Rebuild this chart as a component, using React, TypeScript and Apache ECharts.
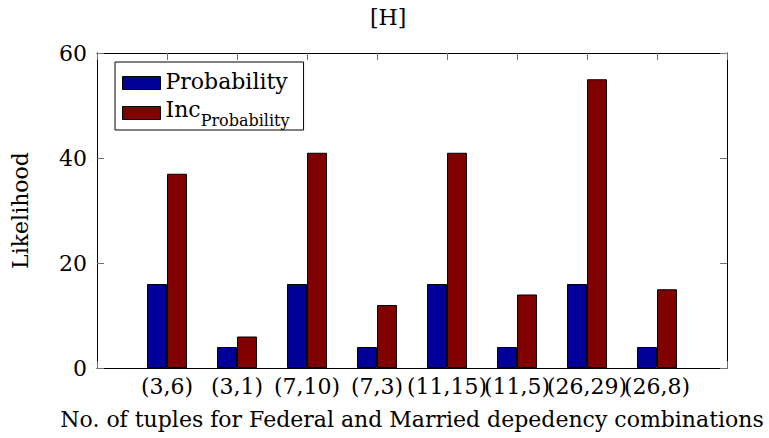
import React, { useEffect, useRef } from "react";
import * as echarts from "echarts";

const categories = ["", "(3,6)", "(3,1)", "(7,10)", "(7,3)", "(11,15)", "(11,5)", "(26,29)", "(26,8)", ""];
const probability = [null, 16, 4, 16, 4, 16, 4, 16, 4, null];
const incProbability = [null, 37, 6, 41, 12, 41, 14, 55, 15, null];
const yTicks = [0, 20, 40, 60];

const FONT = "DejaVu Serif";
const FS = 22;

export default function App() {
  const ref = useRef<HTMLDivElement>(null);
  useEffect(() => {
    if (!ref.current) return;
    const chart = echarts.init(ref.current, null, { renderer: "svg" });
    const tickStyle = { show: true, inside: true, length: 7, lineStyle: { color: "#707070", width: 1 } };
    chart.setOption({
      animation: false,
      backgroundColor: "#ffffff",
      textStyle: { fontFamily: FONT },
      title: {
        text: "[H]",
        left: 370,
        top: 6,
        padding: 0,
        textStyle: { fontFamily: FONT, fontSize: FS, fontWeight: "normal", color: "#000" },
      },
      legend: {
        orient: "vertical",
        left: 115,
        top: 62,
        padding: [8, 14, 2, 7],
        itemWidth: 38,
        itemHeight: 13,
        itemGap: 6,
        itemStyle: { borderColor: "#000", borderWidth: 1 },
        borderColor: "#000",
        borderWidth: 1,
        backgroundColor: "#fff",
        icon: "rect",
        data: ["Probability", "IncProbability"],
        formatter: (name: string) =>
          name === "IncProbability" ? "{a|Inc}{s|Probability}" : "{a|" + name + "}",
        textStyle: {
          fontFamily: FONT,
          fontSize: FS,
          color: "#000",
          rich: {
            a: { fontFamily: FONT, fontSize: FS, color: "#000", lineHeight: 26, verticalAlign: "top" },
            s: { fontFamily: FONT, fontSize: 16, color: "#000", lineHeight: 30, verticalAlign: "bottom" },
          },
        },
      },
      grid: { left: 97, right: 42, top: 53, bottom: 70, containLabel: false },
      xAxis: [
        {
          type: "category",
          data: categories,
          boundaryGap: false,
          position: "bottom",
          axisLine: { show: true, lineStyle: { color: "#000", width: 1 } },
          axisTick: { ...tickStyle, interval: 0 },
          axisLabel: { interval: 0, fontFamily: FONT, fontSize: FS, color: "#000", margin: 7, hideOverlap: false },
          splitLine: { show: false },
          name: "No. of tuples for Federal and Married depedency combinations",
          nameLocation: "middle",
          nameGap: 40,
          nameTextStyle: { fontFamily: FONT, fontSize: FS, color: "#000" },
        },
        {
          type: "category",
          data: categories,
          boundaryGap: false,
          position: "top",
          offset: 0,
          axisLine: { show: true, onZero: false, lineStyle: { color: "#000", width: 1 } },
          axisTick: { ...tickStyle, interval: 0 },
          axisLabel: { show: true, interval: 0, color: "rgba(0,0,0,0)", fontSize: 1 },
          splitLine: { show: false },
        },
      ],
      yAxis: [
        {
          type: "value",
          min: yTicks[0],
          max: yTicks[yTicks.length - 1],
          interval: 20,
          position: "left",
          axisLine: { show: true, lineStyle: { color: "#000", width: 1 } },
          axisTick: tickStyle,
          axisLabel: { fontFamily: FONT, fontSize: FS, color: "#000", margin: 10 },
          splitLine: { show: false },
          name: "Likelihood",
          nameLocation: "middle",
          nameGap: 66,
          nameTextStyle: { fontFamily: FONT, fontSize: FS, color: "#000" },
        },
        {
          type: "value",
          min: yTicks[0],
          max: yTicks[yTicks.length - 1],
          interval: 20,
          position: "right",
          axisLine: { show: true, lineStyle: { color: "#000", width: 1 } },
          axisTick: tickStyle,
          axisLabel: { show: false },
          splitLine: { show: false },
        },
      ],
      series: [
        {
          name: "Probability",
          type: "bar",
          xAxisIndex: 0,
          yAxisIndex: 0,
          data: probability,
          barWidth: 20,
          barGap: "0%",
          itemStyle: { color: "#000099", borderColor: "#000", borderWidth: 1 },
        },
        {
          name: "IncProbability",
          type: "bar",
          xAxisIndex: 0,
          yAxisIndex: 0,
          data: incProbability,
          barWidth: 20,
          barGap: "0%",
          itemStyle: { color: "#800000", borderColor: "#000", borderWidth: 1 },
        },
      ],
    });
    return () => chart.dispose();
  }, []);
  return <div ref={ref} style={{ width: 769, height: 438, position: "absolute", left: 0, top: 0 }} />;
}
